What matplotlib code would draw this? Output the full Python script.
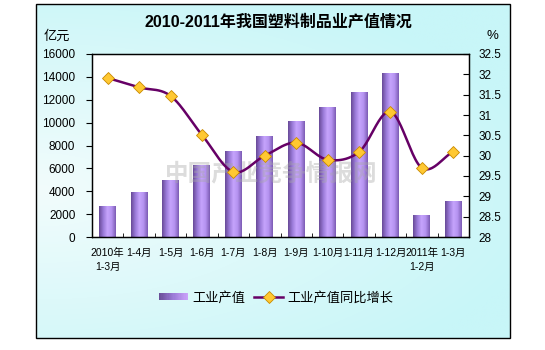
import numpy as np
import matplotlib
matplotlib.use("Agg")
import matplotlib.pyplot as plt
from matplotlib.colors import LinearSegmentedColormap, to_rgb
from matplotlib.patches import Rectangle
from matplotlib.lines import Line2D
from matplotlib.legend_handler import HandlerBase

plt.rcParams['font.family'] = ['Liberation Sans', 'Noto Sans CJK SC', 'DejaVu Sans']

# data
periods = ['2010年\n1-3月', '1-4月', '1-5月', '1-6月', '1-7月', '1-8月', '1-9月',
           '1-10月', '1-11月', '1-12月', '2011年\n1-2月', '1-3月']
output_value = [2720, 3900, 5000, 6330, 7560, 8790, 10110, 11350, 12700, 14300, 1930, 3190]
growth_pct = [31.91, 31.68, 31.47, 30.51, 29.60, 30.00, 30.32, 29.90, 30.09, 31.08, 29.70, 30.10]

bar_cmap = LinearSegmentedColormap.from_list(
    'bar', ['#684a98', '#9a7ad8', '#c6a4fc', '#b592f0', '#7c5cb4'])
legend_cmap = LinearSegmentedColormap.from_list('leg', ['#6a4f98', '#9c7cd8', '#caa2fa'])


def catmull_rom(y, n=24):
    # smooth curve through the points, like a spreadsheet "smoothed line"
    y = np.asarray(y, float)
    x = np.arange(len(y), dtype=float)
    px = np.concatenate([[2 * x[0] - x[1]], x, [2 * x[-1] - x[-2]]])
    py = np.concatenate([[2 * y[0] - y[1]], y, [2 * y[-1] - y[-2]]])
    xs, ys = [], []
    t = np.linspace(0, 1, n, endpoint=False)
    for i in range(1, len(px) - 2):
        for arr, out in ((px, xs), (py, ys)):
            p0, p1, p2, p3 = arr[i - 1:i + 3]
            out.extend(0.5 * (2 * p1 + (-p0 + p2) * t + (2 * p0 - 5 * p1 + 4 * p2 - p3) * t ** 2
                              + (-p0 + 3 * p1 - 3 * p2 + p3) * t ** 3))
    xs.append(x[-1])
    ys.append(y[-1])
    return np.array(xs), np.array(ys)


class GradientPatchHandler(HandlerBase):
    def create_artists(self, legend, orig_handle, xdescent, ydescent, width, height, fontsize, trans):
        n = 24
        arts = []
        for i in range(n):
            arts.append(Rectangle((-xdescent + width * i / n, -ydescent + height * 0.1),
                                  width / n * 1.1, height * 0.8,
                                  facecolor=legend_cmap(i / (n - 1)), edgecolor='none',
                                  transform=trans))
        return arts


fig = plt.figure(figsize=(5.45, 3.5), dpi=100)

# chart area background: pale near the left middle, cyan towards the edges
bg = fig.add_axes([0, 0, 1, 1], zorder=-5)
bg.set_xlim(0, 545)
bg.set_ylim(350, 0)
bg.axis('off')
gx, gy = np.meshgrid(np.linspace(36, 510, 240), np.linspace(4, 338, 180))
d = np.sqrt(((gx - 40) / 470) ** 2 + ((gy - 190) / 200) ** 2)
g = np.clip(d / 1.1, 0, 1)[..., None]
c0, c1 = np.array(to_rgb('#f2fcfc')), np.array(to_rgb('#c8f6f8'))
img = c0 * (1 - g) + c1 * g
bg.imshow(img, extent=[36, 510, 338, 4], aspect='auto', interpolation='bilinear')
bg.add_patch(Rectangle((36, 4), 474, 334, fill=False, edgecolor='black', lw=1))

ax = fig.add_axes([92 / 545, 1 - 237 / 350, 377 / 545, 183 / 350])
ax.set_facecolor('white')
ax2 = ax.twinx()

x = np.arange(len(periods))
bar_w = 0.54
bars = ax.bar(x, output_value, width=bar_w, color='none', edgecolor='none', zorder=2)
grad = np.linspace(0, 1, 64).reshape(1, -1)
for b in bars:
    bx, by = b.get_x(), b.get_y()
    im = ax.imshow(grad, cmap=bar_cmap, aspect='auto', zorder=2,
                   extent=[bx, bx + b.get_width(), by, by + b.get_height()])
    im.set_clip_path(b)

ax.set_xlim(-0.5, len(periods) - 0.5)
ax.set_ylim(0, 16000)
ax.set_yticks(np.arange(0, 16001, 2000))
ax.set_xticks(x)
ax.set_xticklabels(periods, fontsize=7.5, linespacing=1.45)
ax.set_xticks(np.arange(-0.5, len(periods), 1), minor=True)
ax.tick_params(axis='x', which='major', length=0, pad=8)
ax.tick_params(axis='x', which='minor', length=3, direction='in')
ax.tick_params(axis='y', length=4, direction='out', pad=8, labelsize=8.5)

xs, ys = catmull_rom(growth_pct)
ax2.plot(xs, ys, color='#660066', lw=1.8, zorder=3)
ax2.plot(x, growth_pct, ls='none', marker='D', ms=6, mfc='#ffc832', mec='#c88a00',
         mew=0.6, zorder=4)
ax2.set_ylim(28, 32.5)
ax2.set_yticks(np.arange(28, 32.51, 0.5))
ax2.set_yticklabels(['28', '28.5', '29', '29.5', '30', '30.5', '31', '31.5', '32', '32.5'])
ax2.tick_params(axis='y', length=4, direction='in', pad=7, labelsize=8.5)

for a in (ax, ax2):
    for s in a.spines.values():
        s.set_color('black')
        s.set_linewidth(0.9)

# site watermark
ax2.text(0.476, 0.34, '中国产业竞争情报网', transform=ax2.transAxes, fontsize=17,
         fontweight='bold', color='#a8a8a8', alpha=0.4, ha='center', va='center', zorder=1)

fig.text(278 / 545, 1 - 22 / 350, '2010-2011年我国塑料制品业产值情况', ha='center', va='center',
         fontsize=11.5, fontweight='bold')
fig.text(57 / 545, 1 - 37 / 350, '亿元', ha='center', va='center', fontsize=9.5)
fig.text(492 / 545, 1 - 36 / 350, '%', ha='center', va='center', fontsize=9.5)

handles = [Rectangle((0, 0), 1, 1),
           Line2D([], [], color='#660066', lw=1.8, marker='D', ms=6, mfc='#ffc832',
                  mec='#c88a00', mew=0.6)]
fig.legend(handles, ['工业产值', '工业产值同比增长'], loc='center',
           bbox_to_anchor=(276 / 545, 1 - 298 / 350), ncol=2, frameon=False,
           fontsize=9.5, handlelength=2.2, handletextpad=0.3, columnspacing=0.7,
           handler_map={Rectangle: GradientPatchHandler()})

fig.savefig('out.png', dpi=100)
